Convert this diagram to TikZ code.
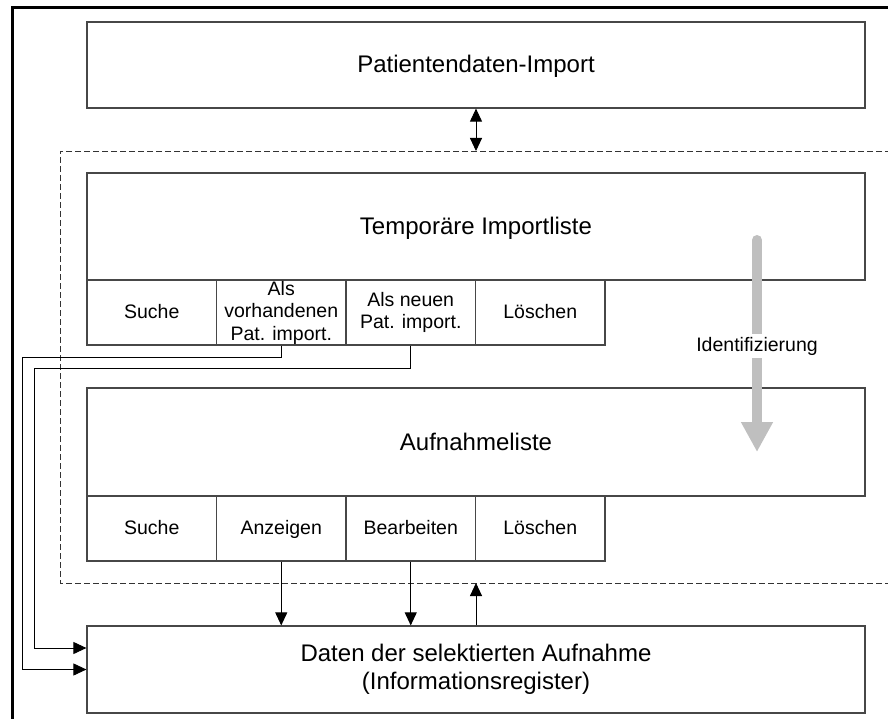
\documentclass[tikz,border=0pt]{standalone}
\usepackage{fontspec}
\setmainfont{Liberation Sans}
\usetikzlibrary{arrows.meta}
\begin{document}
\begin{tikzpicture}[x=1pt,y=-1pt,
  panel/.style={draw=black!72, line width=1.2pt, rectangle, inner sep=0pt,
    minimum width=778pt, font=\fontsize{24}{27.6}\selectfont, align=center},
  onepanel/.style={panel, text height=19pt, text depth=3pt},
  cell/.style={draw=black!72, line width=1.2pt, rectangle, inner sep=0pt,
    minimum width=129.5pt, minimum height=65pt,
    font=\fontsize{19.5}{22.5}\selectfont, align=center},
  onecell/.style={cell, text height=15pt, text depth=3pt},
  link/.style={draw=black, line width=0.9pt, -{Triangle[length=13pt,width=12pt]}},
  twoway/.style={draw=black, line width=0.9pt,
    {Triangle[length=13pt,width=12pt]}-{Triangle[length=13pt,width=12pt]}},
  frame/.style={draw=black, line width=3pt},
  zone/.style={draw=black!80, line width=0.9pt, dash pattern=on 6pt off 3pt},
  flow/.style={draw=black!25, line width=10pt, line cap=round,
    -{Triangle[length=30pt,width=30pt]}},
  flowlabel/.style={fill=white, inner xsep=1pt, inner ysep=3pt,
    font=\fontsize{19.5}{22.5}\selectfont}
]
\useasboundingbox (0,0) rectangle (888,719);
\clip (0,0) rectangle (888,719);

% outer frame
\draw[frame] (12,740) -- (12,8) -- (900,8);

% dashed working area
\draw[zone] (900,151) -- (60,151) -- (60,583) -- (900,583);
\coordinate (dtop) at (476,151);
\coordinate (dbot) at (476,583);

% main panels
\node[onepanel, minimum height=86pt] (imp) at (476,65) {Patientendaten-Import};
\node[onepanel, minimum height=107pt] (tmp) at (476,226.5) {Temporäre Importliste};
\node[onepanel, minimum height=108pt] (auf) at (476,442) {Aufnahmeliste};
\node[panel, minimum height=87pt] (dat) at (476,669.5)
  {Daten der selektierten Aufnahme\\(Informationsregister)};

% action cells of the import list
\node[onecell] (c11) at (151.75,312.5) {Suche};
\node[cell] (c12) at (281.25,312.5) {Als\\vorhandenen\\Pat. import.};
\node[cell] (c13) at (410.75,312.5) {Als neuen\\Pat. import.};
\node[onecell] (c14) at (540.25,312.5) {Löschen};

% action cells of the admission list
\node[onecell] (c21) at (151.75,528.5) {Suche};
\node[onecell] (c22) at (281.25,528.5) {Anzeigen};
\node[onecell] (c23) at (410.75,528.5) {Bearbeiten};
\node[onecell] (c24) at (540.25,528.5) {Löschen};

% identification flow
\coordinate (fa) at (757,240);
\coordinate (fb) at (757,452);
\draw[flow] (fa) -- (fb);
\node[flowlabel] (idl) at (757,346) {Identifizierung};

% connectors
\draw[twoway] (imp.south) -- (dtop);
\draw[link] (dat.north) -- (dbot);
\draw[link] (c22.south) -- (c22.south |- dat.north);
\draw[link] (c23.south) -- (c23.south |- dat.north);

\coordinate (k1) at (22,357);
\coordinate (k2) at (34,368);
\draw[link] (c12.south) |- (k1) |- (dat.west);
\draw[link] (c13.south) |- (k2) |- ([yshift=21.5pt]dat.west);
\end{tikzpicture}
\end{document}
